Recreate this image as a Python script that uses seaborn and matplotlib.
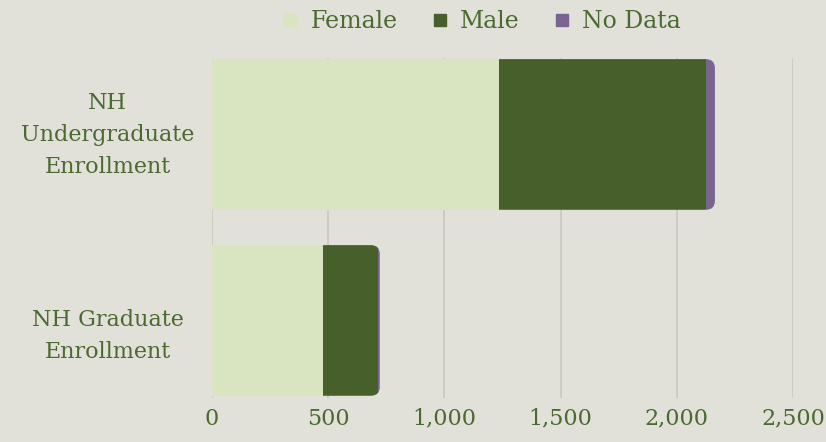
import numpy as np
import pandas as pd
import matplotlib
import matplotlib.pyplot as plt
import seaborn as sns
from matplotlib.patches import FancyBboxPatch
from matplotlib.transforms import IdentityTransform, ScaledTranslation
from matplotlib.lines import Line2D

categories = ['NH\nUndergraduate\nEnrollment', 'NH Graduate\nEnrollment']
female = [1235, 478]
male = [891, 236]
no_data = [38, 8]
series = ['Female', 'Male', 'No Data']
colors = {'Female': '#d9e5c0', 'Male': '#475f2a', 'No Data': '#7a6490'}
x_ticks = [0, 500, 1000, 1500, 2000, 2500]

bg = '#e1e0d9'
text_col = '#4a6a30'

df = pd.DataFrame({'category': categories, 'Female': female, 'Male': male, 'No Data': no_data})

sns.set_style('white')
plt.rcParams['font.family'] = ['DejaVu Serif']

fig = plt.figure(figsize=(8.26, 4.42), dpi=100, facecolor=bg)
ax = fig.add_axes([212 / 826, 1 - 398 / 442, (793 - 212) / 826, 340 / 442])
ax.set_facecolor(bg)

# stacked bars: draw each series, then shift its segments to start where the previous ended
left = np.zeros(len(categories))
row_patches = {i: [] for i in range(len(categories))}
for name in series:
    n_before = len(ax.patches)
    sns.barplot(data=df, x=name, y='category', orient='h', color=colors[name],
                width=0.81, ax=ax, saturation=1, linewidth=0, edgecolor='none')
    for i, p in enumerate(ax.patches[n_before:]):
        p.set_x(left[i])
        row_patches[i].append(p)
    left = left + df[name].values

ax.set_xlim(0, 2500)
ax.set_ylim(1.417, -0.411)
ax.set_xticks(x_ticks)
ax.set_xticklabels([f'{v:,}' for v in x_ticks])
ax.set_xlabel('')
ax.set_ylabel('')
ax.grid(axis='x', color='#cbcac2', linewidth=1.3)
ax.set_axisbelow(True)
for s in ax.spines.values():
    s.set_visible(False)
ax.tick_params(axis='both', length=0, colors=text_col, labelsize=16)
ax.tick_params(axis='x', pad=7)
ax.tick_params(axis='y', pad=75)
ylabels = ax.get_yticklabels()
for lbl in ylabels:
    lbl.set_horizontalalignment('center')
    lbl.set_linespacing(1.6)
# nudge labels vertically to sit like the original
ylabels[0].set_transform(ylabels[0].get_transform() + ScaledTranslation(0, 7 / 100, fig.dpi_scale_trans))
ylabels[1].set_transform(ylabels[1].get_transform() + ScaledTranslation(0, -8 / 100, fig.dpi_scale_trans))

# round the right end of each stacked bar
for i, plist in row_patches.items():
    x0 = plist[0].get_window_extent().x0
    x1 = plist[-1].get_window_extent().x1
    bb = plist[0].get_window_extent()
    clip = FancyBboxPatch((x0 - 30, bb.y0), x1 - x0 + 30, bb.height,
                          boxstyle='round,pad=0,rounding_size=9',
                          transform=IdentityTransform())
    for p in plist:
        if p.get_window_extent().x1 > x1 - 10:
            p.set_clip_path(clip)

handles = [Line2D([], [], marker='s', linestyle='', markersize=8,
                  markerfacecolor=colors[s], markeredgecolor=colors[s]) for s in series]
leg = fig.legend(handles, series, loc='upper center', bbox_to_anchor=(0.578, 1.025),
                 ncol=3, frameon=False, fontsize=17, handletextpad=0.15,
                 handlelength=1.4, columnspacing=1.1, labelcolor=text_col)

fig.savefig('out.png', dpi=100, facecolor=bg)
